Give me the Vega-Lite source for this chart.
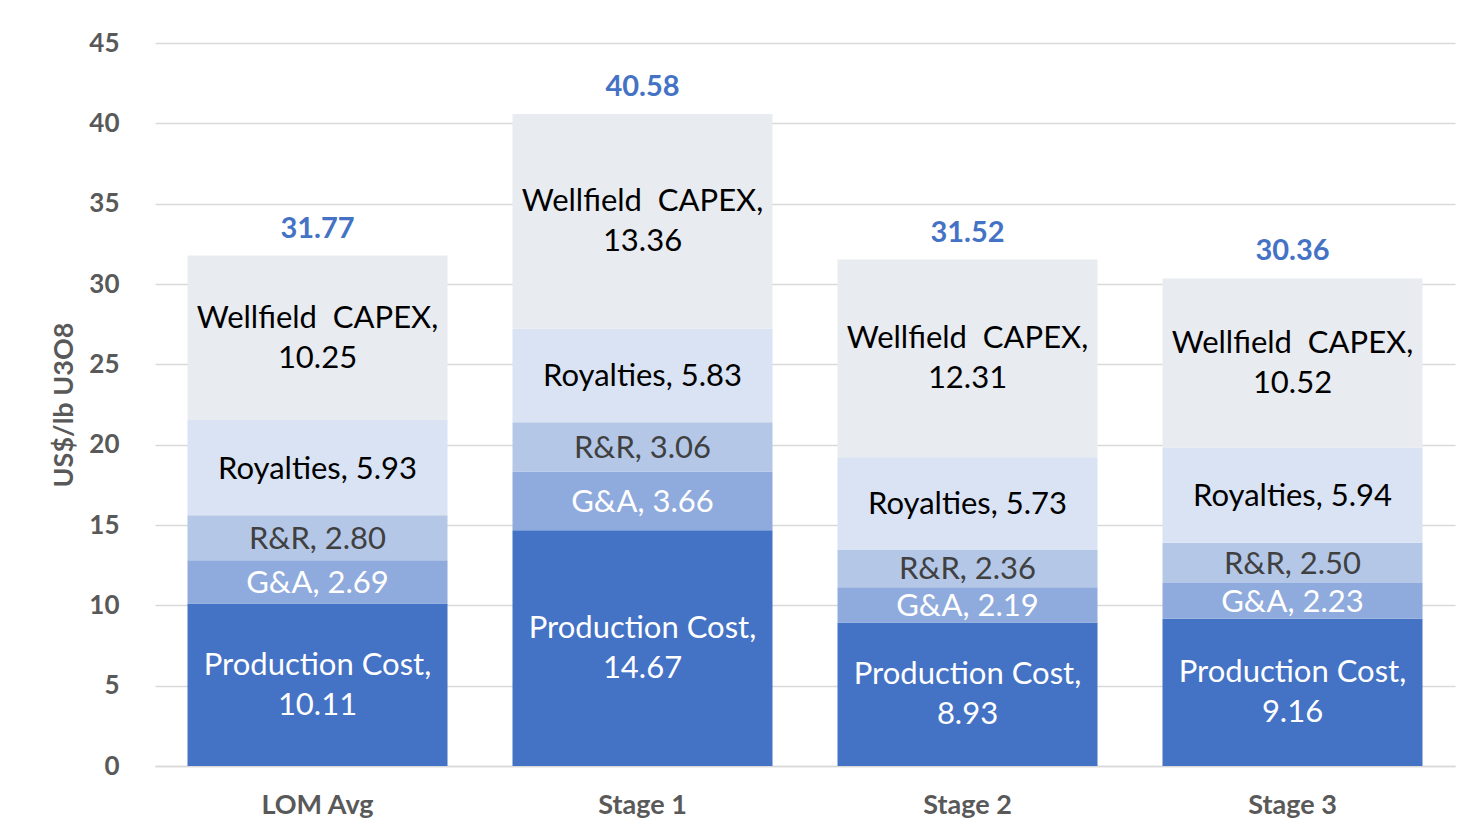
{
  "$schema": "https://vega.github.io/schema/vega-lite/v6.json",
  "width": 1300,
  "height": 723,
  "autosize": {"type": "none"},
  "padding": {"left": 155, "top": 43, "right": 17, "bottom": 69},
  "background": "white",
  "config": {"font": "Lato", "view": {"stroke": null}},
  "layer": [
    {
      "data": {"values": [
        {"group": "LOM Avg", "category": "Production Cost", "order": 1, "value": 10.11, "label": "Production Cost,|10.11"},
        {"group": "LOM Avg", "category": "G&A", "order": 2, "value": 2.69, "label": "G&A, 2.69"},
        {"group": "LOM Avg", "category": "R&R", "order": 3, "value": 2.80, "label": "R&R, 2.80"},
        {"group": "LOM Avg", "category": "Royalties", "order": 4, "value": 5.93, "label": "Royalties, 5.93"},
        {"group": "LOM Avg", "category": "Wellfield CAPEX", "order": 5, "value": 10.25, "label": "Wellfield\u00a0 CAPEX,|10.25"},
        {"group": "Stage 1", "category": "Production Cost", "order": 1, "value": 14.67, "label": "Production Cost,|14.67"},
        {"group": "Stage 1", "category": "G&A", "order": 2, "value": 3.66, "label": "G&A, 3.66"},
        {"group": "Stage 1", "category": "R&R", "order": 3, "value": 3.06, "label": "R&R, 3.06"},
        {"group": "Stage 1", "category": "Royalties", "order": 4, "value": 5.83, "label": "Royalties, 5.83"},
        {"group": "Stage 1", "category": "Wellfield CAPEX", "order": 5, "value": 13.36, "label": "Wellfield\u00a0 CAPEX,|13.36"},
        {"group": "Stage 2", "category": "Production Cost", "order": 1, "value": 8.93, "label": "Production Cost,|8.93"},
        {"group": "Stage 2", "category": "G&A", "order": 2, "value": 2.19, "label": "G&A, 2.19"},
        {"group": "Stage 2", "category": "R&R", "order": 3, "value": 2.36, "label": "R&R, 2.36"},
        {"group": "Stage 2", "category": "Royalties", "order": 4, "value": 5.73, "label": "Royalties, 5.73"},
        {"group": "Stage 2", "category": "Wellfield CAPEX", "order": 5, "value": 12.31, "label": "Wellfield\u00a0 CAPEX,|12.31"},
        {"group": "Stage 3", "category": "Production Cost", "order": 1, "value": 9.16, "label": "Production Cost,|9.16"},
        {"group": "Stage 3", "category": "G&A", "order": 2, "value": 2.23, "label": "G&A, 2.23"},
        {"group": "Stage 3", "category": "R&R", "order": 3, "value": 2.50, "label": "R&R, 2.50"},
        {"group": "Stage 3", "category": "Royalties", "order": 4, "value": 5.94, "label": "Royalties, 5.94"},
        {"group": "Stage 3", "category": "Wellfield CAPEX", "order": 5, "value": 10.52, "label": "Wellfield\u00a0 CAPEX,|10.52"}
      ]},
      "transform": [
        {"stack": "value", "groupby": ["group"], "sort": [{"field": "order", "order": "ascending"}], "as": ["v0", "v1"]},
        {"calculate": "(datum.v0 + datum.v1) / 2", "as": "mid"},
        {"calculate": "split(datum.label, '|')", "as": "lines"}
      ],
      "encoding": {
        "x": {
          "field": "group", "type": "nominal",
          "sort": ["LOM Avg", "Stage 1", "Stage 2", "Stage 3"],
          "scale": {"paddingInner": 0.2, "paddingOuter": 0.1},
          "axis": {
            "title": null, "labelAngle": 0, "ticks": false,
            "domainColor": "#D9D9D9", "domainWidth": 1.5,
            "labelFont": "Lato", "labelFontSize": 27, "labelFontWeight": "bold",
            "labelColor": "#595959", "labelPadding": 26
          }
        }
      },
      "layer": [
        {
          "mark": {"type": "bar"},
          "encoding": {
            "y": {
              "field": "v0", "type": "quantitative",
              "scale": {"domain": [0, 45], "nice": false},
              "axis": {
                "values": [0, 5, 10, 15, 20, 25, 30, 35, 40, 45],
                "title": "US$/lb U3O8",
                "titleFont": "Lato", "titleFontSize": 27, "titleFontWeight": "bold", "titleColor": "#595959",
                "titlePadding": 10,
                "labelFont": "Lato", "labelFontSize": 26, "labelFontWeight": "bold", "labelColor": "#595959",
                "labelPadding": 36,
                "domain": false, "ticks": false,
                "grid": true, "gridColor": "#D9D9D9", "gridWidth": 1.5
              }
            },
            "y2": {"field": "v1"},
            "color": {
              "field": "category", "type": "nominal",
              "scale": {
                "domain": ["Production Cost", "G&A", "R&R", "Royalties", "Wellfield CAPEX"],
                "range": ["#4472C4", "#8FAADC", "#B4C7E7", "#DAE3F3", "#E8EBF0"]
              },
              "legend": null
            }
          }
        },
        {
          "transform": [{"filter": "length(datum.lines) == 1"}],
          "mark": {"type": "text", "fontSize": 31, "baseline": "middle", "align": "center", "font": "Lato", "dy": 2},
          "encoding": {
            "y": {"field": "mid", "type": "quantitative"},
            "text": {"field": "lines"},
            "color": {
              "condition": [
                {"test": "datum.category === 'Production Cost' || datum.category === 'G&A'", "value": "#FFFFFF"},
                {"test": "datum.category === 'R&R'", "value": "#404040"}
              ],
              "value": "#000000"
            }
          }
        },
        {
          "transform": [{"filter": "length(datum.lines) == 2"}],
          "mark": {"type": "text", "fontSize": 31, "lineHeight": 40, "baseline": "middle", "align": "center", "font": "Lato", "dy": -19},
          "encoding": {
            "y": {"field": "mid", "type": "quantitative"},
            "text": {"field": "lines"},
            "color": {
              "condition": [
                {"test": "datum.category === 'Production Cost' || datum.category === 'G&A'", "value": "#FFFFFF"}
              ],
              "value": "#000000"
            }
          }
        }
      ]
    },
    {
      "data": {"values": [
        {"group": "LOM Avg", "total": 31.77},
        {"group": "Stage 1", "total": 40.58},
        {"group": "Stage 2", "total": 31.52},
        {"group": "Stage 3", "total": 30.36}
      ]},
      "mark": {"type": "text", "fontSize": 29, "fontWeight": "bold", "color": "#4472C4", "baseline": "middle", "dy": -27, "font": "Lato"},
      "encoding": {
        "x": {"field": "group", "type": "nominal", "sort": ["LOM Avg", "Stage 1", "Stage 2", "Stage 3"]},
        "y": {"field": "total", "type": "quantitative"},
        "text": {"field": "total", "format": ".2f"}
      }
    }
  ]
}
